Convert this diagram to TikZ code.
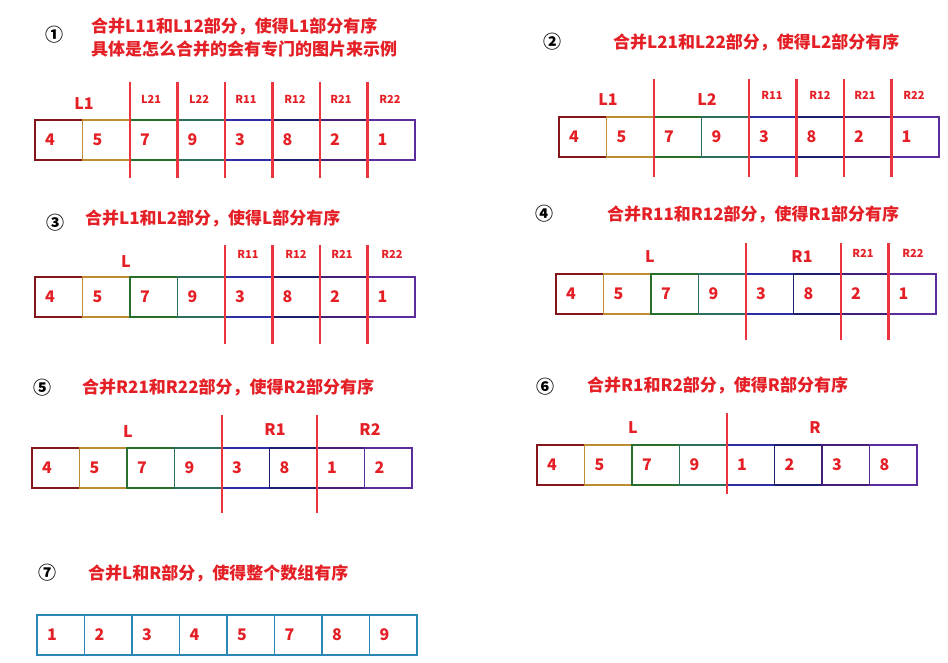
\documentclass[tikz,border=0pt]{standalone}
\usepackage{fontspec}
\newfontfamily\cjk{Noto Sans CJK SC}
\definecolor{tred}{RGB}{228,32,38}
\definecolor{sred}{RGB}{236,52,62}
\definecolor{pa1}{RGB}{130,22,26}
\definecolor{pa2}{RGB}{190,140,50}
\definecolor{pa3}{RGB}{40,110,45}
\definecolor{pa4}{RGB}{45,110,95}
\definecolor{pa5}{RGB}{45,45,165}
\definecolor{pa6}{RGB}{30,30,110}
\definecolor{pa7}{RGB}{70,30,120}
\definecolor{pa8}{RGB}{90,45,155}
\definecolor{tl1}{RGB}{40,135,180}
\colorlet{tl2}{tl1}\colorlet{tl3}{tl1}\colorlet{tl4}{tl1}
\colorlet{tl5}{tl1}\colorlet{tl6}{tl1}\colorlet{tl7}{tl1}\colorlet{tl8}{tl1}
\tikzset{
  cellbox/.style={draw, line width=1.5pt, rectangle, outer sep=0pt,
    minimum height=40pt, inner xsep=10pt, inner ysep=0pt, text width=27.5pt,
    align=left, text=tred, font=\cjk\bfseries\fontsize{16}{16}\selectfont},
  sepline/.style={draw=sred, line width=2.2pt},
  title/.style={anchor=west, text=tred, inner sep=0pt, font=\cjk\bfseries\fontsize{17}{17}\selectfont},
  circnum/.style={inner sep=0pt, text=black, font=\cjk\bfseries\fontsize{18}{18}\selectfont},
  biglab/.style={inner sep=0pt, text=tred, font=\cjk\bfseries\fontsize{16}{16}\selectfont},
  smalllab/.style={inner sep=0pt, text=tred, font=\cjk\bfseries\fontsize{11}{11}\selectfont},
}
\newcommand\cellrow[5]{%
  \foreach \n [count=\i] in {#5} {
    \pgfmathsetmacro\cx{#2+47.5*(\i-0.5)}
    \node[cellbox, draw=#4\i] (#1c\i) at (\cx, #3+20) {\n};
  }}
\begin{document}
\begin{tikzpicture}[x=1pt,y=-1pt]
\useasboundingbox[fill=white] (0,0) rectangle (948,663);

% ---------- Panel 1
\node[circnum] (n1) at (54,35) {①};
\node[title] (t1a) at (91,26) {合并L11和L12部分，使得L1部分有序};
\node[title] (t1b) at (91,49) {具体是怎么合并的会有专门的图片来示例};
\cellrow{p1}{35}{120}{pa}{4,5,7,9,3,8,2,1}
\foreach \k in {3,...,8} \draw[sepline] (p1c\k.north west) ++(0,-38) -- ++(0,96);
\node[biglab] (p1L1) at (84,104) {L1};
\node[smalllab] (p1L21) at (151,99) {L21};
\node[smalllab] (p1L22) at (199,99) {L22};
\node[smalllab] (p1R11) at (246,99) {R11};
\node[smalllab] (p1R12) at (295,99) {R12};
\node[smalllab] (p1R21) at (341,99) {R21};
\node[smalllab] (p1R22) at (390,99) {R22};

% ---------- Panel 2
\node[circnum] (n2) at (552,42) {②};
\node[title] (t2) at (613,42) {合并L21和L22部分，使得L2部分有序};
\cellrow{p2}{559}{117}{pa}{4,5,7,9,3,8,2,1}
\foreach \k in {3,5,6,7,8} \draw[sepline] (p2c\k.north west) ++(0,-38) -- ++(0,98);
\node[biglab] (p2L1) at (608,100) {L1};
\node[biglab] (p2L2) at (707,100) {L2};
\node[smalllab] (p2R11) at (772,95) {R11};
\node[smalllab] (p2R12) at (820,95) {R12};
\node[smalllab] (p2R21) at (865,95) {R21};
\node[smalllab] (p2R22) at (914,95) {R22};

% ---------- Panel 3
\node[circnum] (n3) at (55,223) {③};
\node[title] (t3) at (85,218) {合并L1和L2部分，使得L部分有序};
\cellrow{p3}{35}{277}{pa}{4,5,7,9,3,8,2,1}
\foreach \k in {5,...,8} \draw[sepline] (p3c\k.north west) ++(0,-32) -- ++(0,99);
\node[biglab] (p3L) at (126,262) {L};
\node[smalllab] (p3R11) at (248,254) {R11};
\node[smalllab] (p3R12) at (296,254) {R12};
\node[smalllab] (p3R21) at (342,254) {R21};
\node[smalllab] (p3R22) at (392,254) {R22};

% ---------- Panel 4
\node[circnum] (n4) at (544,214) {④};
\node[title] (t4) at (607,214) {合并R11和R12部分，使得R1部分有序};
\cellrow{p4}{556}{274}{pa}{4,5,7,9,3,8,2,1}
\foreach \k in {5,7,8} \draw[sepline] (p4c\k.north west) ++(0,-31) -- ++(0,97);
\node[biglab] (p4L) at (650,257) {L};
\node[biglab] (p4R1) at (802,257) {R1};
\node[smalllab] (p4R21) at (863,253) {R21};
\node[smalllab] (p4R22) at (913,253) {R22};

% ---------- Panel 5
\node[circnum] (n5) at (42,388) {⑤};
\node[title] (t5) at (82,387) {合并R21和R22部分，使得R2部分有序};
\cellrow{p5}{32}{448}{pa}{4,5,7,9,3,8,1,2}
\foreach \k in {5,7} \draw[sepline] (p5c\k.north west) ++(0,-33) -- ++(0,98);
\node[biglab] (p5L) at (128,432) {L};
\node[biglab] (p5R1) at (275,430) {R1};
\node[biglab] (p5R2) at (370,430) {R2};

% ---------- Panel 6
\node[circnum] (n6) at (545,387) {⑥};
\node[title] (t6) at (587,385) {合并R1和R2部分，使得R部分有序};
\cellrow{p6}{537}{445}{pa}{4,5,7,9,1,2,3,8}
\draw[sepline] (p6c5.north west) ++(0,-32) -- ++(0,81);
\node[biglab] (p6L) at (633,428) {L};
\node[biglab] (p6R) at (815,428) {R};

% ---------- Panel 7
\node[circnum] (n7) at (47,573) {⑦};
\node[title] (t7) at (88,573) {合并L和R部分，使得整个数组有序};
\cellrow{p7}{37}{615}{tl}{1,2,3,4,5,7,8,9}
\end{tikzpicture}
\end{document}
